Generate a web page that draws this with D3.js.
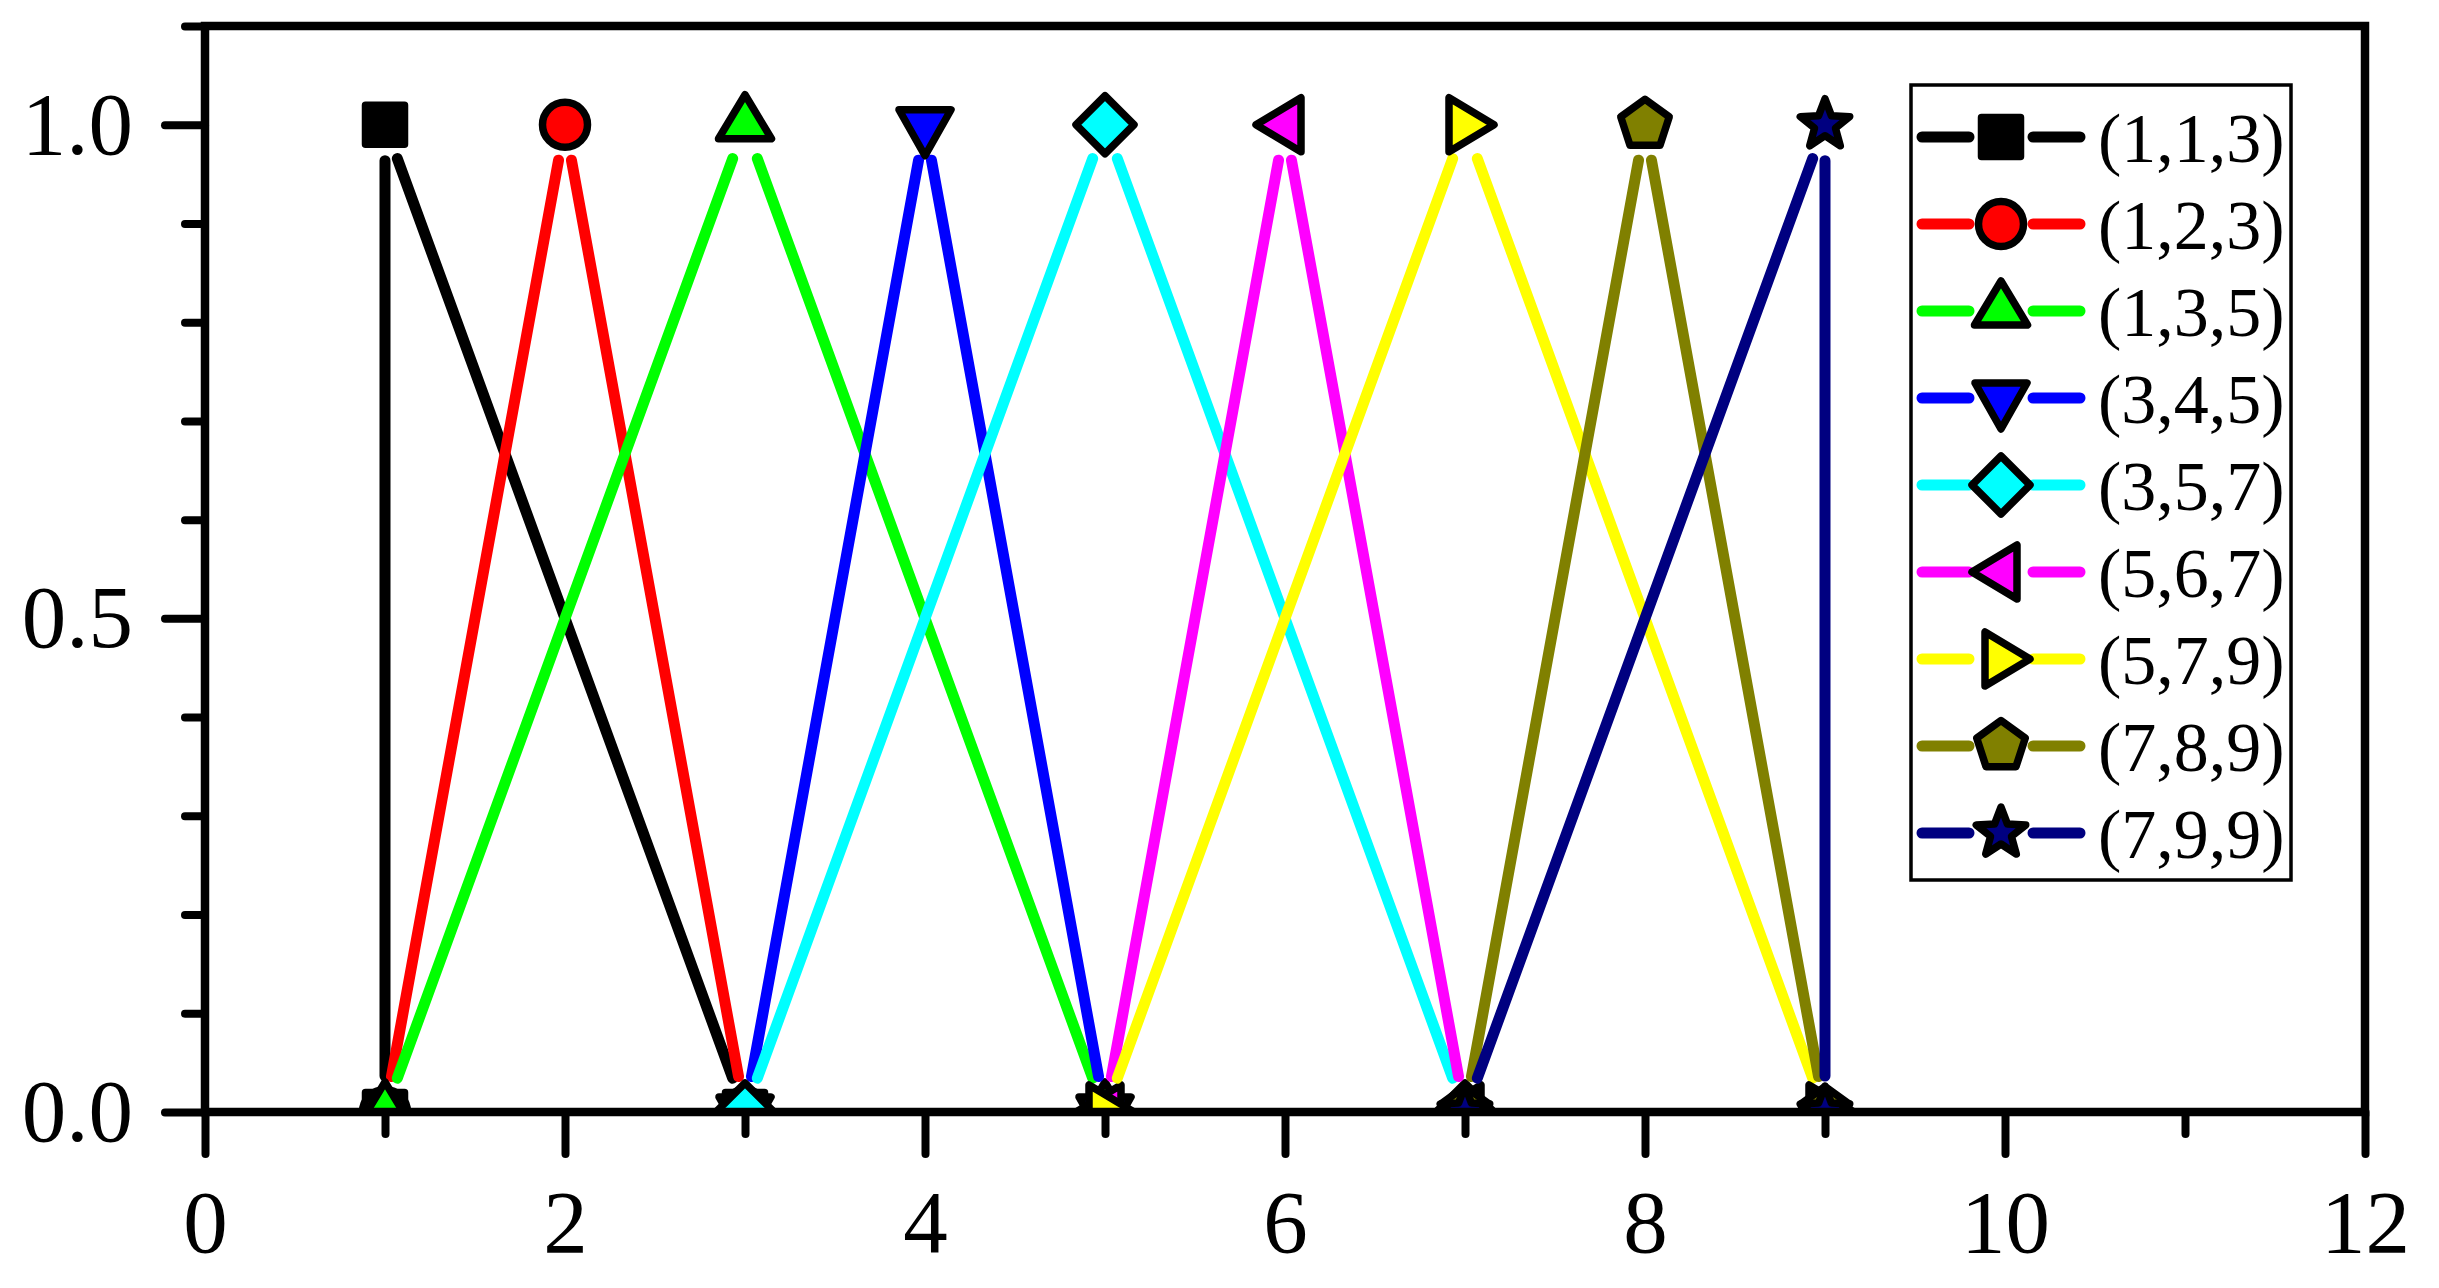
<!DOCTYPE html>
<html>
<head>
<meta charset="utf-8">
<script src="https://cdn.jsdelivr.net/npm/d3@7"></script>
<style>
  body { margin: 0; background: #fff; }
  svg { display: block; font-family: "Liberation Serif", "Times New Roman", serif; }
</style>
</head>
<body>
<div id="chart"></div>
<script>
// Triangular fuzzy numbers (a,b,c): points (a,0), (b,1), (c,0)
const seriesNames = ["(1,1,3)", "(1,2,3)", "(1,3,5)", "(3,4,5)", "(3,5,7)", "(5,6,7)", "(5,7,9)", "(7,8,9)", "(7,9,9)"];
const seriesX = [[1, 1, 3], [1, 2, 3], [1, 3, 5], [3, 4, 5], [3, 5, 7], [5, 6, 7], [5, 7, 9], [7, 8, 9], [7, 9, 9]];
const profileY = [0, 1, 0];
const seriesColors = ["#000000", "#ff0000", "#00ff00", "#0000ff", "#00ffff", "#ff00ff", "#ffff00", "#808000", "#000080"];
const seriesSymbols = ["square", "circle", "triUp", "triDown", "diamond", "triLeft", "triRight", "pentagon", "star"];

const xMajor = [0, 2, 4, 6, 8, 10, 12];
const xMinor = [1, 3, 5, 7, 9, 11];
const yMajor = [0, 0.5, 1.0];
const yMinor = [0.1, 0.2, 0.3, 0.4, 0.6, 0.7, 0.8, 0.9, 1.1];

const width = 2439, height = 1288;
const margin = {left: 205, right: 74, top: 26, bottom: 176};

const x = d3.scaleLinear().domain([0, 12]).range([margin.left, width - margin.right]);
const y = d3.scaleLinear().domain([0, 1.1]).range([height - margin.bottom, margin.top]);

const svg = d3.select("#chart")
  .append("svg")
  .attr("width", width)
  .attr("height", height)
  .attr("viewBox", [0, 0, width, height]);

svg.append("rect").attr("width", width).attr("height", height).attr("fill", "#fff");

// marker shapes, centred on the data point
function shapePath(type) {
  const pts = (arr) => "M" + arr.map(p => p.join(",")).join("L") + "Z";
  switch (type) {
    case "square": return pts([[-19.5, -19.5], [19.5, -19.5], [19.5, 19.5], [-19.5, 19.5]]);
    case "circle": return "M22.5,0A22.5,22.5 0 1,1 -22.5,0A22.5,22.5 0 1,1 22.5,0Z";
    case "triUp": return pts([[0, -30], [26.5, 14], [-26.5, 14]]);
    case "triDown": return pts([[0, 31], [26, -15], [-26, -15]]);
    case "diamond": return pts([[0, -29], [29, 0], [0, 29], [-29, 0]]);
    case "triLeft": return pts([[-29, 0], [16, -27], [16, 27]]);
    case "triRight": return pts([[29, 0], [-16, -27], [-16, 27]]);
    case "pentagon": return pts(d3.range(5).map(k => {
      const a = (-90 + k * 72) * Math.PI / 180;
      return [25.5 * Math.cos(a), 25.5 * Math.sin(a)];
    }));
    case "star": return pts(d3.range(10).map(k => {
      const a = (-90 + k * 36) * Math.PI / 180, r = k % 2 ? 11 : 26;
      return [r * Math.cos(a), r * Math.sin(a)];
    }));
  }
}

// clip to plot area
svg.append("clipPath").attr("id", "plotclip")
  .append("rect")
  .attr("x", x(0)).attr("y", y(1.1))
  .attr("width", x(12) - x(0)).attr("height", y(0) - y(1.1));

const plot = svg.append("g").attr("clip-path", "url(#plotclip)");

const gap = 36; // Origin-style gap between line and symbol
seriesNames.forEach((name, i) => {
  const pts = seriesX[i].map((v, j) => [x(v), y(profileY[j])]);
  const g = plot.append("g");
  for (let j = 0; j < pts.length - 1; j++) {
    const [x1, y1] = pts[j], [x2, y2] = pts[j + 1];
    const len = Math.hypot(x2 - x1, y2 - y1);
    if (len <= 2 * gap) continue;
    const ux = (x2 - x1) / len, uy = (y2 - y1) / len;
    g.append("line")
      .attr("x1", x1 + ux * gap).attr("y1", y1 + uy * gap)
      .attr("x2", x2 - ux * gap).attr("y2", y2 - uy * gap)
      .attr("stroke", seriesColors[i])
      .attr("stroke-width", 11)
      .attr("stroke-linecap", "round");
  }
  g.selectAll("path.marker")
    .data(pts)
    .enter()
    .append("path")
      .attr("class", "marker")
      .attr("transform", d => `translate(${d[0]},${d[1]})`)
      .attr("d", shapePath(seriesSymbols[i]))
      .attr("fill", seriesColors[i])
      .attr("stroke", "#000")
      .attr("stroke-width", 7.5)
      .attr("stroke-linejoin", "round");
});

// frame
svg.append("rect")
  .attr("x", x(0)).attr("y", y(1.1))
  .attr("width", x(12) - x(0)).attr("height", y(0) - y(1.1))
  .attr("fill", "none")
  .attr("stroke", "#000")
  .attr("stroke-width", 8.5);

function styleAxis(g) {
  g.select(".domain").remove();
  g.selectAll(".tick line")
    .attr("stroke", "#000")
    .attr("stroke-width", 8)
    .attr("stroke-linecap", "round");
  g.selectAll(".tick text")
    .attr("fill", "#000")
    .attr("font-family", "'Liberation Serif', 'Times New Roman', serif")
    .attr("font-size", 89);
}

// x axis
svg.append("g")
  .attr("transform", `translate(0,${y(0)})`)
  .call(d3.axisBottom(x).tickValues(xMinor).tickSize(22).tickFormat(""))
  .call(styleAxis);
svg.append("g")
  .attr("transform", `translate(0,${y(0)})`)
  .call(d3.axisBottom(x).tickValues(xMajor).tickSize(42).tickPadding(35).tickFormat(d3.format("d")))
  .call(styleAxis);

// y axis
svg.append("g")
  .attr("transform", `translate(${x(0)},0)`)
  .call(d3.axisLeft(y).tickValues(yMinor).tickSize(20).tickFormat(""))
  .call(styleAxis);
svg.append("g")
  .attr("transform", `translate(${x(0)},0)`)
  .call(d3.axisLeft(y).tickValues(yMajor).tickSize(40).tickPadding(32).tickFormat(d3.format(".1f")))
  .call(styleAxis);

// legend
const legend = svg.append("g");
const lgX = 1911, lgY = 85, lgW = 380, lgH = 795;
const rowY0 = 137, rowStep = 87;
const symX = 2001;
legend.append("rect")
  .attr("x", lgX).attr("y", lgY)
  .attr("width", lgW).attr("height", lgH)
  .attr("fill", "#fff")
  .attr("stroke", "#000")
  .attr("stroke-width", 3.5);

const rows = legend.selectAll("g.row")
  .data(seriesNames)
  .enter()
  .append("g")
    .attr("class", "row")
    .attr("transform", (d, i) => `translate(0,${rowY0 + i * rowStep})`);

rows.each(function(d, i) {
  const r = d3.select(this);
  [[1922, 1969], [2033, 2080]].forEach(([a, b]) => {
    r.append("line")
      .attr("x1", a).attr("x2", b).attr("y1", 0).attr("y2", 0)
      .attr("stroke", seriesColors[i])
      .attr("stroke-width", 11)
      .attr("stroke-linecap", "round");
  });
  r.append("path")
    .attr("transform", `translate(${symX},0)`)
    .attr("d", shapePath(seriesSymbols[i]))
    .attr("fill", seriesColors[i])
    .attr("stroke", "#000")
    .attr("stroke-width", 7.5)
    .attr("stroke-linejoin", "round");
  r.append("text")
    .attr("x", 2098)
    .attr("y", 25)
    .attr("font-size", 70)
    .attr("fill", "#000")
    .text(d);
});
</script>
</body>
</html>
